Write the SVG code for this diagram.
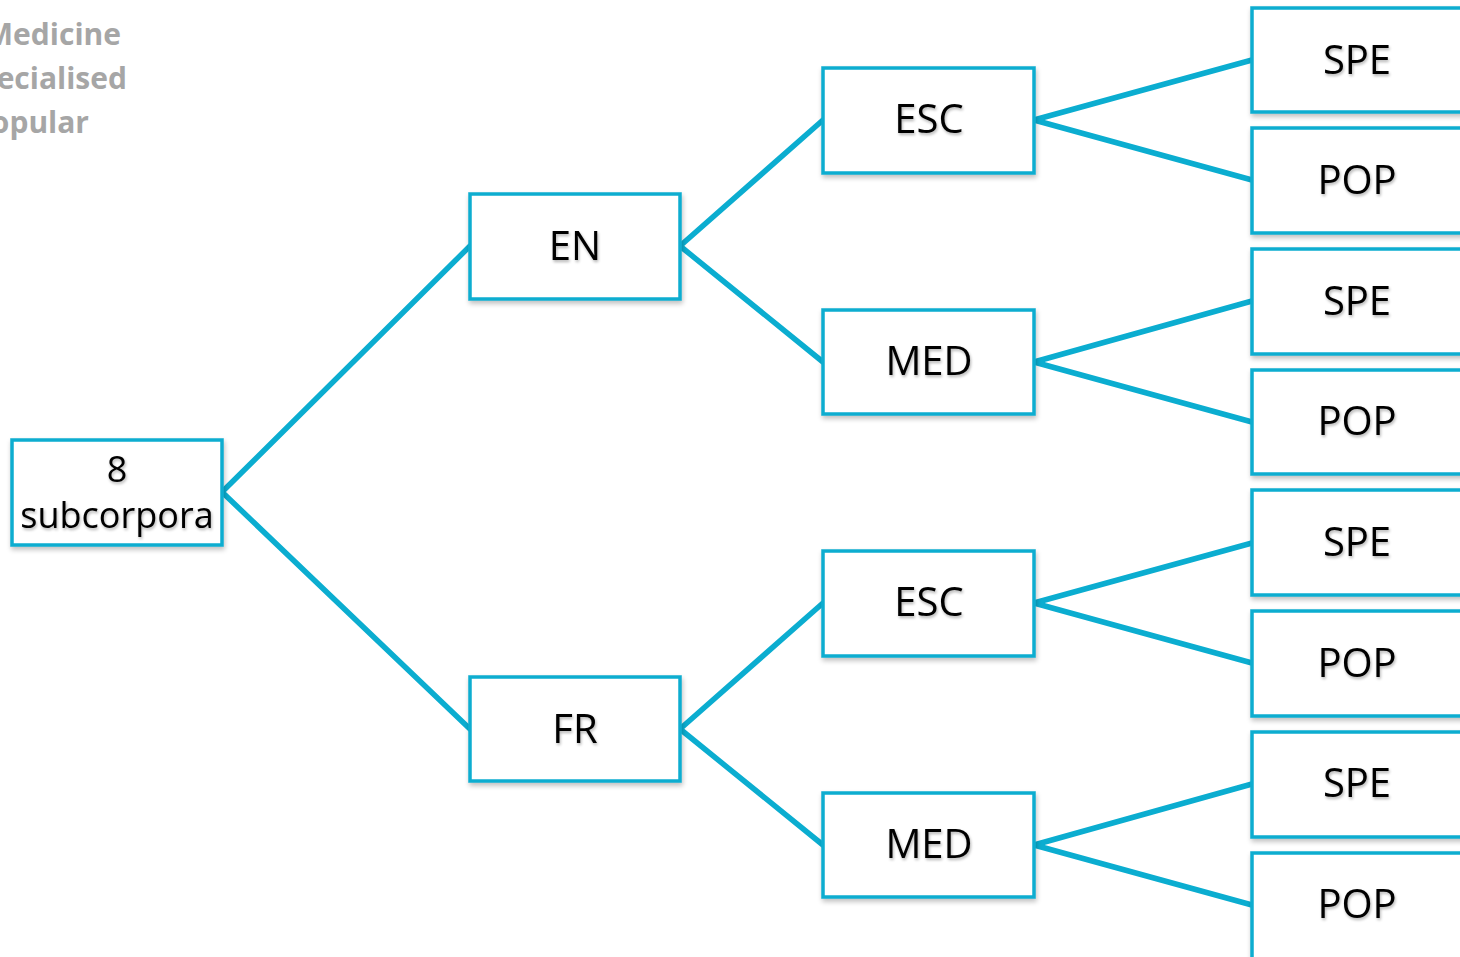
<svg xmlns="http://www.w3.org/2000/svg" width="1460" height="957" viewBox="0 0 1460 957">
<defs>
<filter id="sh" x="-10%" y="-10%" width="125%" height="130%">
<feGaussianBlur in="SourceAlpha" stdDeviation="2.5"/>
<feOffset dx="1" dy="3" result="b"/>
<feComponentTransfer><feFuncA type="linear" slope="0.25"/></feComponentTransfer>
<feMerge><feMergeNode/><feMergeNode in="SourceGraphic"/></feMerge>
</filter>
<filter id="tsh" x="-10%" y="-20%" width="130%" height="150%">
<feGaussianBlur in="SourceAlpha" stdDeviation="1.5"/>
<feOffset dx="1" dy="2"/>
<feComponentTransfer><feFuncA type="linear" slope="0.3"/></feComponentTransfer>
<feMerge><feMergeNode/><feMergeNode in="SourceGraphic"/></feMerge>
</filter>
</defs>
<style>
.box{fill:#ffffff;stroke:#0badd0;stroke-width:3.5;filter:url(#sh)}
.lbl{font-family:"Open Sans","Liberation Sans",sans-serif;font-size:40px;fill:#000;text-anchor:middle;filter:url(#tsh)}
.root{font-size:36px}
.edge{stroke:#0badd0;stroke-width:5.5;fill:none;stroke-linecap:round}
.legend{font-family:"Open Sans","Liberation Sans",sans-serif;font-weight:bold;font-size:30px;fill:#a6a6a6;text-anchor:end}
</style>
<rect width="1460" height="957" fill="#ffffff"/>
<g id="legend">
<text class="legend" x="121" y="45">Medicine</text>
<text class="legend" x="127" y="89">Specialised</text>
<text class="legend" x="89" y="133">Popular</text>
</g>
<g id="connectors">
<line class="edge" x1="222" y1="492" x2="470" y2="246"/>
<line class="edge" x1="222" y1="492" x2="470" y2="729"/>
<line class="edge" x1="680" y1="246" x2="823" y2="120"/>
<line class="edge" x1="680" y1="246" x2="823" y2="362"/>
<line class="edge" x1="680" y1="729" x2="823" y2="603"/>
<line class="edge" x1="680" y1="729" x2="823" y2="845"/>
<line class="edge" x1="1034" y1="120" x2="1252" y2="60"/>
<line class="edge" x1="1034" y1="120" x2="1252" y2="180"/>
<line class="edge" x1="1034" y1="362" x2="1252" y2="301"/>
<line class="edge" x1="1034" y1="362" x2="1252" y2="422"/>
<line class="edge" x1="1034" y1="603" x2="1252" y2="543"/>
<line class="edge" x1="1034" y1="603" x2="1252" y2="663"/>
<line class="edge" x1="1034" y1="845" x2="1252" y2="784"/>
<line class="edge" x1="1034" y1="845" x2="1252" y2="905"/>
</g>
<g id="n-root"><rect class="box" x="12" y="440" width="210" height="105"/><text class="lbl root" x="117" y="482">8</text><text class="lbl root" x="117" y="528">subcorpora</text></g>
<g id="n-en"><rect class="box" x="470" y="194" width="210" height="105"/><text class="lbl" x="575" y="260">EN</text></g>
<g id="n-fr"><rect class="box" x="470" y="677" width="210" height="104"/><text class="lbl" x="575" y="743">FR</text></g>
<g id="n-en-esc"><rect class="box" x="823" y="68" width="211" height="105"/><text class="lbl" x="929" y="133">ESC</text></g>
<g id="n-en-med"><rect class="box" x="823" y="310" width="211" height="104"/><text class="lbl" x="929" y="375">MED</text></g>
<g id="n-fr-esc"><rect class="box" x="823" y="551" width="211" height="105"/><text class="lbl" x="929" y="616">ESC</text></g>
<g id="n-fr-med"><rect class="box" x="823" y="793" width="211" height="104"/><text class="lbl" x="929" y="858">MED</text></g>
<g id="n-spe1"><rect class="box" x="1252" y="8" width="212" height="104"/><text class="lbl" x="1357" y="74">SPE</text></g>
<g id="n-pop1"><rect class="box" x="1252" y="128" width="212" height="105"/><text class="lbl" x="1357" y="194">POP</text></g>
<g id="n-spe2"><rect class="box" x="1252" y="249" width="212" height="105"/><text class="lbl" x="1357" y="315">SPE</text></g>
<g id="n-pop2"><rect class="box" x="1252" y="370" width="212" height="104"/><text class="lbl" x="1357" y="435">POP</text></g>
<g id="n-spe3"><rect class="box" x="1252" y="490" width="212" height="105"/><text class="lbl" x="1357" y="556">SPE</text></g>
<g id="n-pop3"><rect class="box" x="1252" y="611" width="212" height="105"/><text class="lbl" x="1357" y="677">POP</text></g>
<g id="n-spe4"><rect class="box" x="1252" y="732" width="212" height="105"/><text class="lbl" x="1357" y="797">SPE</text></g>
<g id="n-pop4"><rect class="box" x="1252" y="853" width="212" height="110"/><text class="lbl" x="1357" y="918">POP</text></g>
</svg>
